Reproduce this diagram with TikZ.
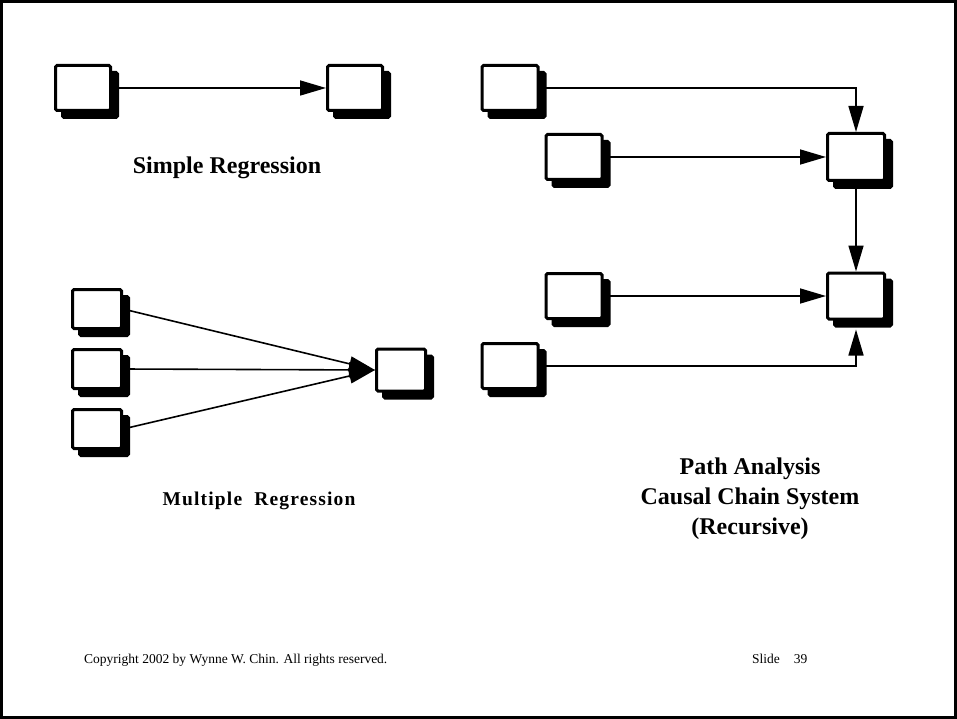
\documentclass[tikz,border=0pt]{standalone}
\usepackage{fontspec}
\setmainfont{Liberation Serif}
\usetikzlibrary{arrows.meta,shadows,backgrounds}
\begin{document}
\begin{tikzpicture}[x=1pt,y=-1pt,
  varbox/.style={draw=black, fill=white, line width=3pt, rounded corners=1.5pt,
    inner sep=0pt, minimum width=55pt, minimum height=45pt,
    drop shadow={shadow xshift=7pt, shadow yshift=-7pt, opacity=1,
      fill=black, draw=black, line width=3pt}},
  smallbox/.style={varbox, minimum width=49pt, minimum height=39pt},
  link/.style={line width=1.6pt, -{Triangle[length=26pt,width=15pt]}},
  title/.style={font=\bfseries\fontsize{24}{30}\selectfont, anchor=base, inner sep=0pt, align=center},
  foot/.style={font=\fontsize{13.5}{16}\selectfont, anchor=base west, inner sep=0pt}]
\useasboundingbox (0,0) rectangle (957,719);
\draw[line width=2.6pt] (1.3,1.3) rectangle (955.7,717.7);

% simple regression
\node[varbox] (a) at (83,88) {};
\node[varbox] (b) at (355,88) {};
\node[title] (simple) at (227,174) {Simple Regression};

% multiple regression
\node[smallbox] (m1) at (97,309) {};
\node[smallbox] (m2) at (97,369) {};
\node[smallbox] (m3) at (97,429) {};
\node[varbox, minimum width=49pt, minimum height=42pt] (t) at (401,370) {};
\node[title, font=\bfseries\fontsize{19.5}{22}\selectfont\addfontfeature{LetterSpace=6}] (multiple) at (259,505) {Multiple\ \ Regression};

% path analysis
\node[varbox, minimum width=56pt] (p1) at (510,88) {};
\node[varbox, minimum width=56pt] (p2) at (574,157) {};
\node[varbox, minimum width=57pt, minimum height=47pt] (p3) at (856,157) {};
\node[varbox, minimum width=56pt] (p4) at (574,296) {};
\node[varbox, minimum width=57pt, minimum height=46pt] (p5) at (856,296) {};
\node[varbox, minimum width=56pt] (p6) at (510,366) {};
\node[title, anchor=north] (path) at (750,458) {Path Analysis\\Causal Chain System\\(Recursive)};

% footer
\node[foot] (copy) at (84,663) {Copyright 2002 by Wynne W. Chin. All rights reserved.};
\node[foot] (slide) at (752,663) {Slide\hspace{14pt}39};

\begin{pgfonlayer}{background}
  \draw[link] (a.east) -- (b.west);
  \draw[link] (m1.east) -- (t.west);
  \draw[link] (m2.east) -- (t.west);
  \draw[link] (m3.east) -- (t.west);
  \draw[link] (p1.east) -| (p3.north);
  \draw[link] (p2.east) -- (p3.west);
  \draw[link] (p3.south) -- (p5.north);
  \draw[link] (p4.east) -- (p5.west);
  \draw[link] (p6.east) -| ([yshift=-9pt]p5.south);
\end{pgfonlayer}
\end{tikzpicture}
\end{document}
